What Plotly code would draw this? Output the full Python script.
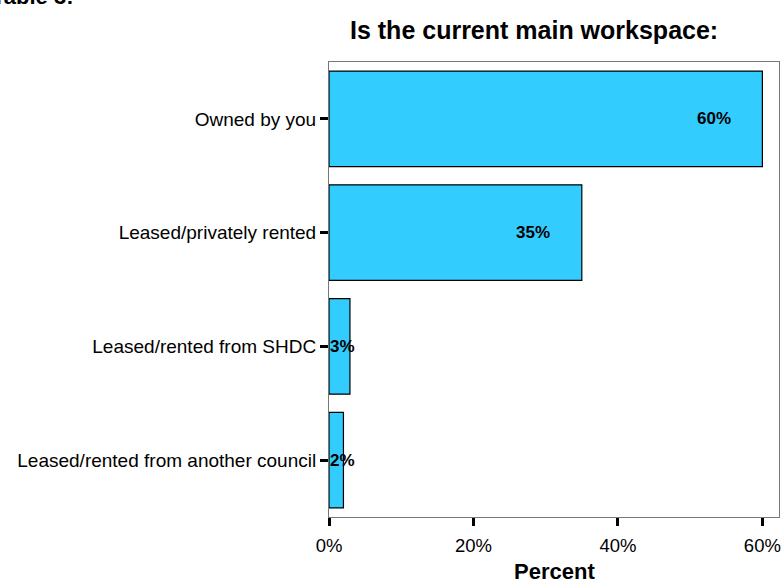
import plotly.graph_objects as go

categories = ["Owned by you", "Leased/privately rented", "Leased/rented from SHDC",
              "Leased/rented from another council"]
values = [60.0, 35.0, 2.9, 2.0]
labels = ["60%", "35%", "3%", "2%"]
tick_vals = [0, 20, 40, 60]
tick_text = ["0%", "20%", "40%", "60%"]

FONT = "Liberation Sans, Arial, sans-serif"

W, H = 784, 586
L, R, T, B = 329, 3, 62, 69
pw, ph = W - L - R, H - T - B


def px(x, y):
    return (x - L) / pw, (H - B - y) / ph


fig = go.Figure()
fig.add_trace(go.Bar(
    x=values, y=categories, orientation="h",
    marker=dict(color="#33CCFF", line=dict(color="black", width=1.2)),
    width=0.84, hoverinfo="skip",
))

annotations = []
for c, v, t in zip(categories, values, labels):
    if v > 10:
        annotations.append(dict(x=v - 6.7, y=c, xref="x", yref="y", text="<b>%s</b>" % t,
                                showarrow=False, xanchor="center", yanchor="middle",
                                font=dict(family=FONT, size=17, color="black")))
    else:
        annotations.append(dict(x=0, y=c, xref="x", yref="y", text="<b>%s</b>" % t,
                                showarrow=False, xanchor="left", yanchor="middle", xshift=-1,
                                font=dict(family=FONT, size=17, color="black")))

tx, ty = px(535, 30)
annotations.append(dict(x=tx, y=ty, xref="paper", yref="paper",
                        text="<b>Is the current main workspace:</b>",
                        showarrow=False, xanchor="center", yanchor="middle",
                        font=dict(family=FONT, size=25, color="black")))
tx, ty = px(555, 571)
annotations.append(dict(x=tx, y=ty, xref="paper", yref="paper", text="<b>Percent</b>",
                        showarrow=False, xanchor="center", yanchor="middle",
                        font=dict(family=FONT, size=22, color="black")))
tx, ty = px(-12, 11)
annotations.append(dict(x=tx, y=ty, xref="paper", yref="paper", text="<b>Table 3:</b>",
                        showarrow=False, xanchor="left", yanchor="bottom",
                        font=dict(family=FONT, size=22, color="black")))

fig.update_layout(
    width=W, height=H,
    margin=dict(l=L, r=R, t=T, b=B),
    paper_bgcolor="white", plot_bgcolor="white",
    showlegend=False,
    font=dict(family=FONT, size=18, color="black"),
    annotations=annotations,
)
fig.update_xaxes(
    range=[0, 62.3], tickvals=tick_vals, ticktext=tick_text,
    showgrid=False, zeroline=False,
    showline=True, linecolor="#777", linewidth=1, mirror=True,
    ticks="outside", ticklen=8, tickwidth=3, tickcolor="black",
    ticklabelstandoff=4,
    tickfont=dict(family=FONT, size=18.5, color="black"),
)
fig.update_yaxes(
    categoryorder="array", categoryarray=categories, autorange="reversed",
    showgrid=False, zeroline=False,
    showline=True, linecolor="#777", linewidth=1, mirror=True,
    ticks="outside", ticklen=8, tickwidth=3, tickcolor="black",
    tickfont=dict(family=FONT, size=19, color="black"),
)

fig.write_html("out.html")
